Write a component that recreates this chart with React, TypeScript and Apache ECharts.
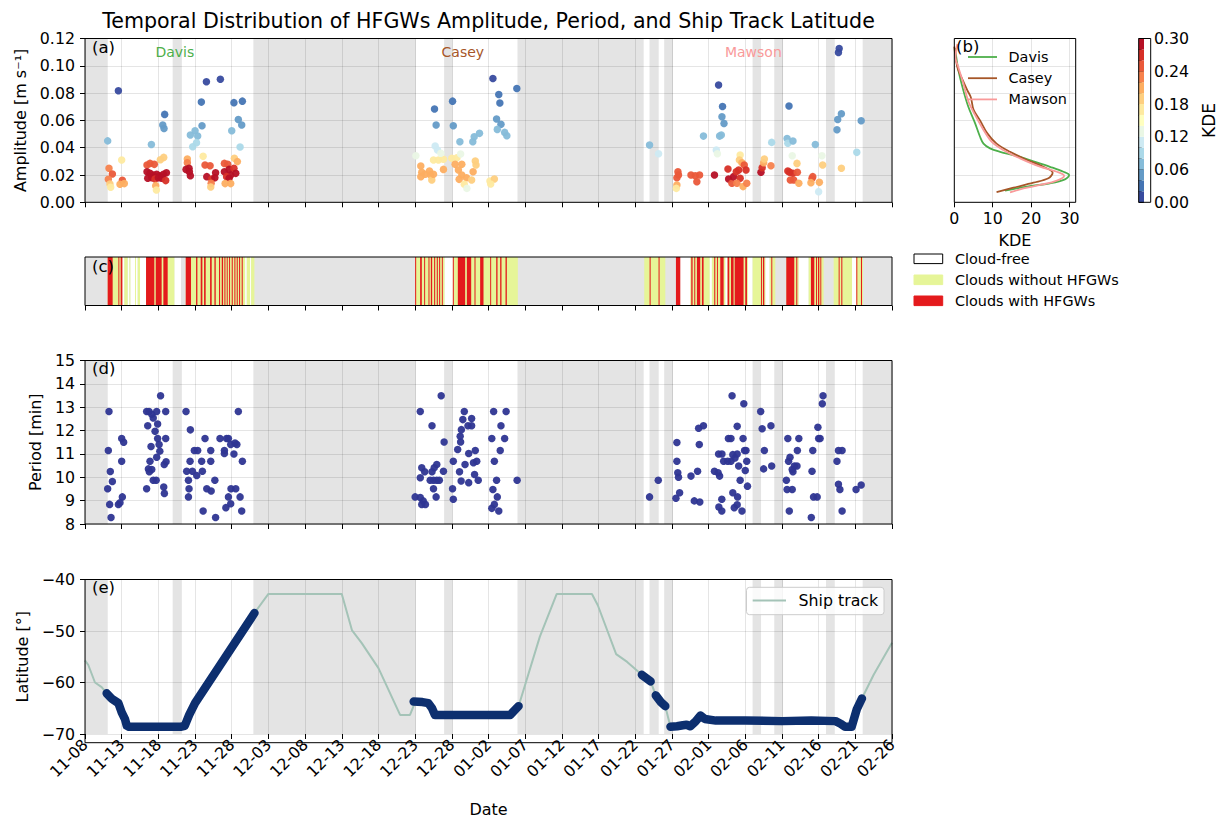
import React, { useEffect, useRef } from 'react';
import * as echarts from 'echarts';

// ---------- layout ----------
const FONT = 'DejaVu Sans';
const PL = 85;
const PW = 807;
const GA = { left: PL, top: 38.5, width: PW, height: 163.8 };
const GB = { left: 954.3, top: 38.5, width: 121.4, height: 163.8 };
const GC = { left: PL, top: 257, width: PW, height: 48.5 };
const GD = { left: PL, top: 360.5, width: PW, height: 163.5 };
const GE = { left: PL, top: 579.5, width: PW, height: 163.2 };
const GCB = { left: 1138.7, top: 38.5, width: 12, height: 163.8 };

// ---------- data (x = days since 11-08) ----------
const DAY_MAX = 110;
const BASE_DATE = Date.UTC(2019, 10, 8);

// periods without observations
const gaps = [
  [0, 3.1], [11.95, 13.2], [22.95, 45.1], [48.95, 50.1], [58.95, 76.15],
  [76.95, 78.2], [78.95, 80.15], [91.0, 92.15], [93.95, 95.15], [101.0, 102.2], [106.0, 110],
];

// amplitude events: [day, amplitude (m/s), KDE]
const ampDavis = [
  [3.09, 0.045, 0.07], [4.55, 0.0817, 0.01], [3.27, 0.0249, 0.23], [3.73, 0.0207, 0.25], [3.18, 0.0168, 0.22],
  [3.4, 0.0134, 0.19], [3.5, 0.011, 0.17], [5.0, 0.031, 0.16], [5.09, 0.0161, 0.24], [4.77, 0.0132, 0.2],
  [5.36, 0.0137, 0.2], [9.05, 0.0424, 0.07], [10.86, 0.0644, 0.03], [10.6, 0.0566, 0.05], [10.77, 0.0541, 0.05],
  [10.73, 0.0329, 0.18], [10.27, 0.0312, 0.19], [8.45, 0.0273, 0.24], [8.86, 0.0285, 0.25], [9.45, 0.0278, 0.24],
  [8.45, 0.0224, 0.29], [8.86, 0.0212, 0.29], [9.3, 0.02, 0.29], [9.77, 0.0205, 0.29], [10.2, 0.0195, 0.29],
  [10.7, 0.0205, 0.29], [11.1, 0.0217, 0.28], [8.55, 0.0176, 0.28], [9.1, 0.018, 0.28], [9.55, 0.017, 0.27],
  [10.0, 0.018, 0.28], [10.45, 0.0176, 0.28], [11.0, 0.0159, 0.27], [9.64, 0.0122, 0.21], [9.73, 0.009, 0.16],
  [13.95, 0.0317, 0.21], [13.95, 0.029, 0.22], [13.77, 0.0241, 0.28], [14.18, 0.0249, 0.28], [14.23, 0.0224, 0.28],
  [14.36, 0.0195, 0.28], [14.68, 0.0407, 0.09], [14.36, 0.0493, 0.07], [15.0, 0.0524, 0.07], [15.36, 0.0485, 0.07],
  [15.2, 0.0437, 0.08], [15.95, 0.0561, 0.05], [15.86, 0.0734, 0.03], [16.55, 0.0883, 0.01], [18.45, 0.0902, 0.01],
  [16.1, 0.0337, 0.16], [16.36, 0.0273, 0.24], [17.05, 0.0268, 0.24], [16.6, 0.0188, 0.28], [17.27, 0.017, 0.27],
  [17.8, 0.0217, 0.28], [17.7, 0.018, 0.28], [17.2, 0.0139, 0.22], [17.14, 0.0112, 0.19], [19.0, 0.0285, 0.24],
  [19.45, 0.0278, 0.24], [19.0, 0.0224, 0.28], [19.64, 0.0241, 0.28], [20.3, 0.0249, 0.26], [20.55, 0.0212, 0.28],
  [19.86, 0.02, 0.28], [19.3, 0.0188, 0.27], [19.64, 0.0176, 0.28], [19.1, 0.0137, 0.2], [19.86, 0.0137, 0.2],
  [20.36, 0.0322, 0.18], [20.77, 0.0298, 0.2], [20.0, 0.0524, 0.07], [20.9, 0.0607, 0.05], [21.36, 0.0566, 0.05],
  [20.3, 0.073, 0.03], [21.45, 0.0741, 0.03], [21.14, 0.0405, 0.09],
];
const ampCasey = [
  [45.1, 0.0341, 0.13], [45.77, 0.0266, 0.21], [45.9, 0.022, 0.21], [46.36, 0.0205, 0.21], [45.77, 0.0188, 0.21],
  [46.95, 0.0229, 0.21], [47.1, 0.02, 0.21], [47.27, 0.0163, 0.19], [47.5, 0.0205, 0.21], [48.86, 0.0241, 0.21],
  [47.5, 0.031, 0.16], [48.18, 0.031, 0.16], [48.86, 0.0315, 0.16], [47.73, 0.0412, 0.1], [48.05, 0.0383, 0.11],
  [48.5, 0.0359, 0.12], [47.64, 0.0683, 0.03], [47.86, 0.0566, 0.05], [50.1, 0.0741, 0.03], [50.2, 0.0561, 0.05],
  [50.0, 0.0322, 0.16], [50.7, 0.0327, 0.16], [51.2, 0.0354, 0.13], [50.45, 0.0278, 0.2], [51.36, 0.0278, 0.21],
  [50.9, 0.0237, 0.21], [51.36, 0.02, 0.21], [52.0, 0.018, 0.21], [51.0, 0.0168, 0.2], [51.7, 0.0132, 0.16],
  [52.05, 0.0102, 0.13], [52.7, 0.0163, 0.19], [52.9, 0.0224, 0.21], [53.2, 0.0302, 0.18], [53.3, 0.0273, 0.19],
  [51.1, 0.0444, 0.07], [52.86, 0.0444, 0.07], [53.05, 0.048, 0.07], [53.77, 0.0505, 0.07], [55.6, 0.0907, 0.01],
  [56.4, 0.079, 0.03], [56.55, 0.0727, 0.03], [56.1, 0.061, 0.05], [56.7, 0.0571, 0.05], [56.2, 0.0534, 0.06],
  [57.2, 0.0512, 0.07], [57.5, 0.0488, 0.07], [58.86, 0.0834, 0.03], [55.2, 0.0156, 0.17], [55.8, 0.0171, 0.18],
  [55.3, 0.0134, 0.16],
];
const ampMawson = [
  [76.95, 0.042, 0.07], [78.18, 0.0356, 0.1], [80.82, 0.0224, 0.24], [80.9, 0.02, 0.24], [80.68, 0.018, 0.25],
  [80.68, 0.0127, 0.21], [80.6, 0.0102, 0.17], [82.6, 0.02, 0.24], [83.18, 0.0195, 0.24], [83.77, 0.02, 0.25],
  [83.4, 0.0151, 0.24], [84.3, 0.0485, 0.07], [85.8, 0.02, 0.28], [86.05, 0.0383, 0.11], [86.2, 0.0356, 0.13],
  [86.36, 0.0859, 0.01], [86.9, 0.0702, 0.03], [86.82, 0.0627, 0.04], [87.1, 0.0578, 0.05], [86.5, 0.0485, 0.07],
  [86.73, 0.0493, 0.07], [87.64, 0.0244, 0.26], [87.73, 0.0171, 0.28], [88.18, 0.0139, 0.24], [88.4, 0.0188, 0.29],
  [88.77, 0.0224, 0.27], [89.1, 0.0237, 0.26], [89.3, 0.0176, 0.26], [88.86, 0.0139, 0.22], [89.3, 0.0346, 0.16],
  [89.2, 0.031, 0.18], [89.55, 0.029, 0.21], [89.86, 0.0273, 0.24], [90.1, 0.0237, 0.26], [89.7, 0.0115, 0.21],
  [90.2, 0.0139, 0.23], [92.14, 0.022, 0.28], [92.3, 0.0254, 0.26], [92.5, 0.029, 0.21], [92.6, 0.0317, 0.18],
  [93.5, 0.0268, 0.23], [93.6, 0.0439, 0.08], [95.7, 0.0468, 0.07], [95.8, 0.0432, 0.08], [96.5, 0.0449, 0.07],
  [95.96, 0.0705, 0.03], [96.4, 0.0341, 0.13], [95.8, 0.0229, 0.26], [96.05, 0.022, 0.27], [96.5, 0.0212, 0.26],
  [97.1, 0.022, 0.24], [96.14, 0.0163, 0.24], [96.6, 0.0163, 0.24], [97.3, 0.0139, 0.21], [97.05, 0.0285, 0.19],
  [99.1, 0.0176, 0.24], [99.2, 0.0188, 0.24], [98.95, 0.0144, 0.21], [100.1, 0.0146, 0.2], [100.0, 0.0078, 0.1],
  [99.55, 0.0424, 0.07], [100.45, 0.0341, 0.13], [100.55, 0.0273, 0.19], [102.5, 0.0532, 0.05], [102.6, 0.0607, 0.04],
  [103.1, 0.0649, 0.04], [102.8, 0.1127, 0.01], [102.7, 0.1098, 0.01], [103.1, 0.0249, 0.19], [105.2, 0.0366, 0.09],
  [105.8, 0.0598, 0.04],
];

// wave period events: [day, period (min)]
const periodEvents = [
  [3.27, 12.82], [3.18, 11.15], [3.45, 10.25], [3.73, 9.82], [3.09, 9.51], [3.36, 8.84], [3.55, 8.28],
  [5.0, 11.66], [5.27, 11.5], [5.0, 10.69], [5.09, 9.16], [4.55, 8.84], [4.77, 8.91],
  [8.4, 12.82], [8.73, 12.82], [9.1, 12.7], [9.77, 12.82], [11.0, 12.82], [10.3, 13.49], [9.3, 12.54],
  [9.9, 12.28], [8.55, 12.21], [9.55, 11.97], [9.9, 11.66], [11.0, 11.66], [10.1, 11.4], [9.0, 11.32],
  [10.2, 11.12], [9.77, 10.86], [8.86, 10.69], [10.8, 10.55], [11.05, 10.66], [8.64, 10.36], [9.1, 10.33],
  [8.77, 10.24], [9.3, 9.87], [9.7, 9.87], [8.4, 9.51], [10.73, 9.58], [10.82, 9.31],
  [13.77, 12.82], [14.36, 12.03], [14.9, 11.15], [15.36, 11.15], [14.32, 10.69], [13.86, 10.26], [14.64, 10.26],
  [15.23, 10.08], [14.1, 9.87], [14.18, 9.51], [14.1, 9.16], [15.9, 10.69], [16.0, 10.26], [16.36, 11.66],
  [17.14, 11.15], [17.14, 10.69], [16.6, 9.51], [17.2, 9.41], [17.7, 9.87], [16.1, 8.56], [17.8, 8.28],
  [18.4, 11.66], [19.3, 11.66], [19.55, 11.66], [19.0, 11.15], [19.0, 11.02], [20.3, 11.0], [19.86, 11.4],
  [20.45, 11.47], [20.7, 11.4], [20.9, 12.82], [21.45, 10.69], [19.9, 9.51], [20.55, 9.51], [19.55, 9.16],
  [21.14, 9.16], [19.2, 8.7], [19.86, 8.87], [21.36, 8.56],
  [45.0, 9.16], [45.7, 9.13], [46.1, 8.99], [45.9, 8.84], [46.4, 8.84], [45.7, 9.98], [46.3, 10.24],
  [45.9, 10.41], [47.3, 10.24], [47.95, 10.55], [47.6, 10.41], [47.05, 9.87], [47.5, 9.87], [47.95, 9.87],
  [48.3, 9.87], [47.5, 9.51], [47.86, 9.16], [48.86, 10.26], [48.95, 11.51], [47.3, 12.21], [45.7, 12.82],
  [48.55, 13.49], [50.1, 9.51], [50.2, 9.06], [50.2, 10.69], [51.05, 10.24], [50.8, 11.19], [51.2, 11.51],
  [51.14, 11.76], [51.27, 9.84], [51.7, 12.82], [51.5, 12.47], [52.2, 12.21], [52.7, 12.52], [52.7, 12.21],
  [51.3, 12.04], [52.3, 11.02], [51.8, 10.55], [52.95, 10.62], [53.4, 10.69], [53.2, 11.15], [52.3, 9.77],
  [53.1, 10.12], [53.6, 9.87], [55.7, 12.82], [57.4, 12.82], [56.7, 12.21], [55.45, 11.66], [57.2, 11.66],
  [56.6, 11.15], [55.8, 10.69], [56.1, 9.87], [55.6, 9.48], [56.2, 9.16], [55.8, 8.84], [55.45, 8.67],
  [56.4, 8.56], [58.9, 9.87],
  [76.95, 9.16], [78.14, 9.87], [80.68, 11.49], [80.68, 10.69], [80.8, 10.19], [80.9, 10.0], [81.05, 9.34],
  [80.55, 9.1], [82.6, 10.05], [83.5, 10.26], [83.05, 8.99], [83.8, 8.94], [83.73, 11.4], [83.64, 12.1],
  [84.3, 12.21], [85.8, 10.26], [86.3, 10.19], [86.5, 10.05], [86.36, 11.0], [86.82, 11.0], [87.05, 10.69],
  [87.6, 10.69], [88.05, 10.69], [88.6, 10.83], [88.3, 10.97], [88.9, 11.0], [89.1, 10.48], [87.7, 11.66],
  [88.05, 11.66], [88.9, 12.18], [89.7, 11.66], [89.9, 11.15], [90.1, 11.15], [90.2, 10.69], [90.0, 10.29],
  [89.3, 9.87], [90.3, 9.62], [88.3, 9.34], [88.95, 9.16], [86.8, 9.06], [86.4, 8.73], [86.8, 8.56],
  [88.5, 8.7], [88.9, 8.82], [89.55, 8.56], [88.2, 13.49], [89.8, 13.15], [92.1, 12.82], [92.3, 12.08],
  [93.5, 12.21], [92.6, 11.15], [92.5, 10.36], [93.6, 10.48], [95.8, 11.66], [97.3, 11.66], [97.1, 11.15],
  [95.9, 10.69], [96.1, 10.86], [96.4, 10.33], [96.7, 10.48], [97.05, 10.48], [96.5, 10.24], [95.6, 9.87],
  [95.7, 9.48], [96.4, 9.48], [96.0, 8.56], [99.1, 10.26], [99.2, 11.15], [100.0, 11.66], [100.2, 11.66],
  [99.9, 12.14], [100.5, 13.15], [100.6, 13.49], [99.3, 9.16], [99.8, 9.16], [99.0, 8.28], [102.5, 10.69],
  [102.7, 11.15], [103.2, 11.15], [102.7, 9.7], [102.9, 9.48], [103.2, 8.56], [105.1, 9.48], [105.8, 9.67],
];

// cloud classification spans [startDay, endDay]
const cloudFree = [
  [5.09, 5.36], [5.82, 6.05], [6.18, 6.82], [6.95, 7.18], [7.5, 8.32], [12.18, 13.09], [21.82, 22.05],
  [22.5, 22.64], [49.0, 50.14], [81.14, 82.5], [85.14, 85.45], [87.27, 87.59], [90.36, 91.0], [92.73, 93.32],
  [97.27, 98.64], [104.55, 105.14],
];
const cloudNoWave = [
  [3.09, 5.09], [5.36, 5.82], [6.05, 6.18], [6.82, 6.95], [7.18, 7.5], [8.32, 12.18], [13.73, 21.82],
  [22.05, 22.5], [22.64, 23.09], [45.0, 49.0], [50.14, 59.0], [76.23, 79.1], [82.5, 85.14], [85.45, 87.27],
  [87.59, 90.36], [91.0, 92.73], [93.32, 94.09], [95.59, 97.27], [98.64, 100.68], [102.05, 104.55], [105.14, 106.05],
];
const cloudWave = [
  [3.09, 3.77], [4.55, 4.68], [4.86, 5.09], [8.32, 9.45], [9.64, 10.45], [10.68, 11.27], [13.73, 14.45],
  [15.14, 15.32], [15.77, 16.0], [16.23, 16.45], [17.05, 17.27], [17.64, 17.82], [18.27, 18.41], [18.64, 18.82],
  [19.0, 19.14], [19.32, 19.45], [19.64, 19.77], [20.0, 20.14], [20.36, 20.5], [20.68, 20.82], [21.0, 21.14],
  [21.36, 21.5], [45.0, 45.14], [45.68, 45.91], [46.23, 46.36], [46.82, 46.95], [47.14, 47.32], [47.59, 47.73],
  [47.95, 48.09], [48.27, 48.41], [48.64, 48.77], [50.14, 50.27], [50.82, 51.82], [52.05, 52.64], [53.09, 53.23],
  [53.86, 54.32], [55.23, 55.36], [56.05, 56.23], [56.59, 56.77], [57.32, 57.5], [76.96, 77.1], [78.18, 78.32],
  [80.55, 81.14], [82.64, 82.82], [83.05, 83.18], [83.41, 83.86], [84.09, 84.32], [85.77, 85.91], [86.14, 86.27],
  [86.59, 87.05], [87.59, 87.82], [88.05, 88.41], [88.55, 89.77], [90.0, 90.23], [92.14, 92.27], [92.41, 92.59],
  [93.55, 93.68], [95.59, 96.68], [96.95, 97.09], [98.95, 99.41], [99.64, 99.77], [99.91, 100.09], [100.23, 100.36],
  [102.73, 102.86], [103.09, 103.23], [105.14, 105.27], [105.77, 105.91],
];

// ship track latitude [day, lat]
const shipTrack = [
  [0, -55.7], [0.45, -56.6], [1.36, -60.0], [2.27, -60.9], [2.95, -62.1], [4.55, -64.0], [5.2, -66.1],
  [5.7, -68.3], [6.0, -68.6], [12.0, -68.6], [13.6, -68.4], [14.2, -66.3], [15.0, -64.0], [23.1, -46.5],
  [25.0, -42.8], [35.0, -42.8], [36.4, -49.9], [37.7, -52.3], [40.0, -57.2], [42.95, -66.3], [44.3, -66.3],
  [45.0, -63.8], [46.8, -64.0], [47.7, -66.3], [57.95, -66.3], [59.1, -64.6], [62.0, -51.1], [64.3, -42.8],
  [69.1, -42.8], [69.9, -45.0], [72.4, -54.5], [73.9, -56.0], [75.9, -58.5], [77.1, -59.8], [77.8, -62.5],
  [79.1, -64.6], [79.8, -68.6], [82.5, -68.4], [83.9, -66.4], [84.5, -67.0], [86.0, -67.4], [102.5, -67.5],
  [103.6, -68.6], [104.5, -68.6], [105.2, -65.2], [105.9, -63.1], [107.5, -58.5], [110, -52.3],
];
// ship positions during observations
const obsSegments = [
  [[2.95, -62.1], [3.6, -63.1], [4.55, -64.0], [5.0, -65.8], [5.45, -67.1], [5.7, -68.4], [6.0, -68.6],
   [12.0, -68.6], [13.0, -68.6], [13.6, -68.4], [14.2, -66.3], [15.0, -64.0], [23.1, -46.5]],
  [[44.8, -63.7], [46.0, -63.8], [46.8, -64.0], [47.3, -65.0], [47.7, -66.3], [57.95, -66.3], [58.5, -65.5], [59.1, -64.6]],
  [[75.9, -58.5], [77.1, -59.8]],
  [[77.8, -62.5], [78.5, -63.8], [79.1, -64.6]],
  [[79.8, -68.6], [80.7, -68.5], [81.5, -68.3], [82.0, -68.2], [82.5, -68.5], [83.2, -67.6], [83.9, -66.4],
   [84.5, -67.1], [86.0, -67.4], [90.0, -67.4], [95.0, -67.5], [99.0, -67.4], [102.3, -67.5], [103.0, -68.0],
   [103.6, -68.6], [104.5, -68.6], [105.2, -65.2], [105.9, -63.1]],
];

// amplitude KDE profiles: [KDE, amplitude]
const kdeDavis = [
  [0.2, 0.113], [1.05, 0.097], [2.35, 0.082], [3.65, 0.07], [5.4, 0.058], [6.7, 0.048], [7.6, 0.043],
  [9.3, 0.0395], [11.9, 0.037], [16.2, 0.034], [20.6, 0.03], [24.9, 0.026], [28.4, 0.0224], [29.9, 0.02],
  [28.8, 0.0168], [24.9, 0.0139], [18.9, 0.0115], [13.2, 0.0085],
];
const kdeCasey = [
  [0, 0.114], [0.8, 0.099], [2.1, 0.09], [3.4, 0.082], [4.3, 0.077], [5.0, 0.068], [6.7, 0.06], [8.6, 0.0505],
  [11.0, 0.043], [14.5, 0.037], [18.9, 0.031], [23.2, 0.026], [25.6, 0.0217], [24.5, 0.0176], [20.6, 0.0144],
  [15.4, 0.0107], [11.0, 0.0075],
];
const kdeMawson = [
  [0.8, 0.116], [0.3, 0.106], [1.05, 0.099], [2.35, 0.087], [3.65, 0.074], [5.4, 0.064], [7.6, 0.053],
  [9.7, 0.0444], [12.7, 0.0383], [17.1, 0.0322], [22.3, 0.0261], [26.7, 0.0224], [28.6, 0.0195], [26.7, 0.0159],
  [22.3, 0.0127], [18.0, 0.0102], [14.5, 0.0072],
];

// colour scale
const KDE_LEVELS = [0, 0.02, 0.04, 0.06, 0.08, 0.1, 0.12, 0.14, 0.16, 0.18, 0.2, 0.22, 0.24, 0.26, 0.28, 0.3];
const CMAP = [
  '#384b9f', '#4575b4', '#649bc7', '#86bcd9', '#abd9e9', '#ceeaf3', '#eaf7e5', '#ffffbf',
  '#feeaa0', '#fecf80', '#fdae61', '#f7824d', '#ea593a', '#d73027', '#b61026',
];

const STATIONS = [
  { name: 'Davis', color: '#4daf4a', day: 12.25 },
  { name: 'Casey', color: '#a65628', day: 51.5 },
  { name: 'Mawson', color: '#f99a9a', day: 91.1 },
];
const CLOUD_COLORS = ['#ffffff', '#e6f598', '#e41a1c'];
const CLOUD_LABELS = ['Cloud-free', 'Clouds without HFGWs', 'Clouds with HFGWs'];
const GAP_COLOR = '#e4e4e4';
const GRID_LINE = 'rgba(0,0,0,0.1)';

const pad2 = (n: number) => (n < 10 ? '0' + n : '' + n);
const dayLabel = (v: number) => {
  const d = new Date(BASE_DATE + v * 86400000);
  return `${pad2(d.getUTCMonth() + 1)}-${pad2(d.getUTCDate())}`;
};

const TICK_FS = 15.8;
const NAME_FS = 16;
const LEG_FS = 14.4;
const textStyle = (size: number, color = '#000') => ({ fontFamily: FONT, fontSize: size, color });

function timeAxis(gridIndex: number, opts: { labels?: boolean; grid?: boolean }) {
  return {
    type: 'value', gridIndex, min: 0, max: DAY_MAX, interval: 5, z: 1,
    axisLine: { show: false },
    axisTick: { show: true, length: 5, lineStyle: { color: '#000', width: 1 } },
    axisLabel: opts.labels
      ? { show: true, rotate: 45, margin: 8, formatter: dayLabel, ...textStyle(TICK_FS) }
      : { show: false },
    splitLine: { show: !!opts.grid, lineStyle: { color: GRID_LINE, width: 1 } },
  };
}

function valueAxis(gridIndex: number, min: number, max: number, interval: number, fmt: (v: number) => string, extra: any = {}) {
  return {
    type: 'value', gridIndex, min, max, interval, z: 1,
    axisLine: { show: false },
    axisTick: { show: true, length: 5, lineStyle: { color: '#000', width: 1 } },
    axisLabel: { show: true, margin: 10, formatter: fmt, ...textStyle(TICK_FS) },
    splitLine: { show: true, lineStyle: { color: GRID_LINE, width: 1 } },
    nameTextStyle: textStyle(NAME_FS),
    ...extra,
  };
}

function spanRender(colorOf: (api: any) => string) {
  return (params: any, api: any) => {
    const cs = params.coordSys;
    const x0 = api.coord([api.value(0), 0])[0];
    const x1 = api.coord([api.value(1), 0])[0];
    return {
      type: 'rect',
      shape: { x: x0, y: cs.y, width: Math.max(x1 - x0, 0.8), height: cs.height },
      style: { fill: colorOf(api) },
    };
  };
}

function gapSeries(idx: number) {
  return {
    type: 'custom', xAxisIndex: idx, yAxisIndex: idx, z: 0, silent: true, clip: true,
    encode: { x: [0, 1] }, data: gaps, renderItem: spanRender(() => GAP_COLOR),
  };
}

function frame(g: any) {
  return {
    type: 'rect', z: 100, silent: true,
    shape: { x: g.left, y: g.top, width: g.width, height: g.height },
    style: { fill: 'none', stroke: '#000', lineWidth: 1 },
  };
}

function label(text: string, x: number, y: number, size: number, color = '#000', align = 'left') {
  return {
    type: 'text', z: 101, silent: true, x, y,
    style: {
      text, fill: color, fontFamily: FONT, fontSize: size,
      align, textAlign: align, verticalAlign: 'middle', textVerticalAlign: 'middle',
    },
  };
}

function buildOption() {
  const ampAll = [...ampDavis, ...ampCasey, ...ampMawson];
  const cloudSpans = [
    ...cloudFree.map((s) => [s[0], s[1], 0]),
    ...cloudNoWave.map((s) => [s[0], s[1], 1]),
    ...cloudWave.map((s) => [s[0], s[1], 2]),
  ];
  const cbData = CMAP.map((_, i) => [KDE_LEVELS[i], KDE_LEVELS[i + 1], i]);

  const series: any[] = [];
  series.push(gapSeries(0));
  series.push({
    type: 'scatter', name: 'amplitude', xAxisIndex: 0, yAxisIndex: 0, z: 3, symbolSize: 7.5,
    data: ampAll, itemStyle: { opacity: 0.95 },
  });
  const ampIndex = series.length - 1;
  [
    { name: 'Davis', data: kdeDavis, color: STATIONS[0].color },
    { name: 'Casey', data: kdeCasey, color: STATIONS[1].color },
    { name: 'Mawson', data: kdeMawson, color: STATIONS[2].color },
  ].forEach((k) => {
    series.push({
      type: 'line', name: k.name, xAxisIndex: 1, yAxisIndex: 1, z: 3, data: k.data,
      showSymbol: false, smooth: 0.35, lineStyle: { color: k.color, width: 1.8 }, itemStyle: { color: k.color },
    });
  });
  series.push({
    type: 'custom', xAxisIndex: 2, yAxisIndex: 2, z: 2, silent: true, clip: true,
    encode: { x: [0, 1] }, data: cloudSpans,
    renderItem: spanRender((api) => CLOUD_COLORS[api.value(2)]),
  });
  series.push(gapSeries(3));
  series.push({
    type: 'scatter', xAxisIndex: 3, yAxisIndex: 3, z: 3, symbolSize: 7.5,
    data: periodEvents, itemStyle: { color: '#2e3592', opacity: 0.95 },
  });
  series.push(gapSeries(4));
  series.push({
    type: 'line', name: 'Ship track', xAxisIndex: 4, yAxisIndex: 4, z: 3, data: shipTrack,
    showSymbol: false, lineStyle: { color: '#a4c3b7', width: 2 },
  });
  obsSegments.forEach((seg) => {
    series.push({
      type: 'line', xAxisIndex: 4, yAxisIndex: 4, z: 4, data: seg, showSymbol: false,
      lineStyle: { color: '#0d2f6f', width: 8.5, cap: 'round', join: 'round' },
    });
  });
  series.push({
    type: 'custom', xAxisIndex: 5, yAxisIndex: 5, z: 2, silent: true, data: cbData,
    encode: { y: [0, 1] },
    renderItem: (params: any, api: any) => {
      const cs = params.coordSys;
      const y0 = api.coord([0, api.value(0)])[1];
      const y1 = api.coord([0, api.value(1)])[1];
      return {
        type: 'rect', shape: { x: cs.x, y: y1, width: cs.width, height: y0 - y1 },
        style: { fill: CMAP[api.value(2)] },
      };
    },
  });

  const graphics: any[] = [
    frame(GA), frame(GB), frame(GC), frame(GD), frame(GE), frame(GCB),
    label('Temporal Distribution of HFGWs Amplitude, Period, and Ship Track Latitude', 488.5, 20.5, 20.6, '#000', 'center'),
    label('(a)', 92, 47, 16.5), label('(b)', 956, 46, 16.5), label('(c)', 92, 266, 16.5),
    label('(d)', 92, 368, 16.5), label('(e)', 92, 587, 16.5),
  ];
  STATIONS.forEach((s) => {
    graphics.push(label(s.name, PL + (s.day / DAY_MAX) * PW, 52, 14, s.color, 'center'));
  });
  // KDE legend
  STATIONS.forEach((s, i) => {
    const y = 57 + i * 21.2;
    graphics.push({
      type: 'line', z: 101, silent: true, shape: { x1: 968, y1: y, x2: 997, y2: y },
      style: { stroke: s.color, lineWidth: 1.8 },
    });
    graphics.push(label(s.name, 1008.5, y, LEG_FS));
  });
  // cloud legend
  CLOUD_LABELS.forEach((t, i) => {
    const y = 254 + i * 21;
    graphics.push({
      type: 'rect', z: 101, silent: true, shape: { x: 914, y, width: 28.7, height: 9.6 },
      style: { fill: CLOUD_COLORS[i], stroke: i === 0 ? '#000' : CLOUD_COLORS[i], lineWidth: 1 },
    });
    graphics.push(label(t, 955, y + 4.8, LEG_FS));
  });
  // ship track legend
  graphics.push({
    type: 'rect', z: 101, silent: true, shape: { x: 746.5, y: 587.3, width: 137.5, height: 27.4, r: 3 },
    style: { fill: 'rgba(255,255,255,0.8)', stroke: '#cccccc', lineWidth: 1 },
  });
  graphics.push({
    type: 'line', z: 102, silent: true, shape: { x1: 752.7, y1: 600.5, x2: 786, y2: 600.5 },
    style: { stroke: '#a4c3b7', lineWidth: 2 },
  });
  graphics.push(label('Ship track', 798.5, 600.5, 15.8));

  return {
    animation: false,
    backgroundColor: '#ffffff',
    textStyle: { fontFamily: FONT },
    grid: [
      { ...GA, show: false },
      { ...GB, show: false },
      { ...GC, show: true, backgroundColor: GAP_COLOR, borderWidth: 0 },
      { ...GD, show: false },
      { ...GE, show: false },
      { ...GCB, show: false },
    ],
    xAxis: [
      timeAxis(0, { grid: true }),
      {
        type: 'value', gridIndex: 1, min: 0, max: 31.6, interval: 10, z: 1,
        axisLine: { show: false },
        axisTick: { show: true, length: 5, lineStyle: { color: '#000' } },
        axisLabel: {
          show: true, margin: 8, showMaxLabel: false,
          formatter: (v: number) => (v % 10 === 0 ? String(v) : ''), ...textStyle(TICK_FS),
        },
        splitLine: { show: true, lineStyle: { color: GRID_LINE } },
        name: 'KDE', nameLocation: 'middle', nameGap: 30, nameTextStyle: textStyle(NAME_FS),
      },
      timeAxis(2, {}),
      timeAxis(3, { grid: true }),
      { ...timeAxis(4, { labels: true, grid: true }), name: 'Date', nameLocation: 'middle', nameGap: 67, nameTextStyle: textStyle(NAME_FS) },
      { type: 'value', gridIndex: 5, min: 0, max: 1, show: false },
    ],
    yAxis: [
      valueAxis(0, 0, 0.12, 0.02, (v) => v.toFixed(2), {
        name: 'Amplitude [m s\u207b\u00b9]', nameLocation: 'middle', nameGap: 54, nameRotate: 90,
      }),
      {
        type: 'value', gridIndex: 1, min: 0, max: 0.12, interval: 0.02, z: 1,
        axisLine: { show: false }, axisTick: { show: false }, axisLabel: { show: false },
        splitLine: { show: true, lineStyle: { color: GRID_LINE } },
      },
      { type: 'value', gridIndex: 2, min: 0, max: 1, show: false },
      valueAxis(3, 8, 15, 1, (v) => String(v), {
        name: 'Period [min]', nameLocation: 'middle', nameGap: 37, nameRotate: 90,
      }),
      valueAxis(4, -70, -40, 10, (v) => (v < 0 ? '\u2212' + Math.abs(v) : String(v)), {
        name: 'Latitude [\u00b0]', nameLocation: 'middle', nameGap: 51, nameRotate: 90,
      }),
      {
        type: 'value', gridIndex: 5, min: 0, max: 0.3, interval: 0.06, position: 'right', z: 1,
        axisLine: { show: false },
        axisTick: { show: true, length: 5, lineStyle: { color: '#000' } },
        minorTick: { show: true, splitNumber: 3, length: 3, lineStyle: { color: '#000' } },
        axisLabel: { show: true, margin: 10, formatter: (v: number) => v.toFixed(2), ...textStyle(TICK_FS) },
        splitLine: { show: false },
        name: 'KDE', nameLocation: 'middle', nameGap: 56, nameRotate: 90, nameTextStyle: textStyle(17),
      },
    ],
    visualMap: {
      type: 'piecewise', show: false, dimension: 2, seriesIndex: ampIndex,
      pieces: CMAP.map((c, i) => ({ gte: KDE_LEVELS[i], lt: KDE_LEVELS[i + 1] + (i === CMAP.length - 1 ? 1e-9 : 0), color: c })),
    },
    series,
    graphic: graphics,
  };
}

export default function App() {
  const ref = useRef<HTMLDivElement>(null);
  useEffect(() => {
    document.body.style.margin = '0';
    if (!ref.current) return;
    const chart = echarts.init(ref.current, undefined, { renderer: 'svg' });
    chart.setOption(buildOption() as any);
    return () => chart.dispose();
  }, []);
  return <div ref={ref} style={{ width: 1218, height: 818 }} />;
}
